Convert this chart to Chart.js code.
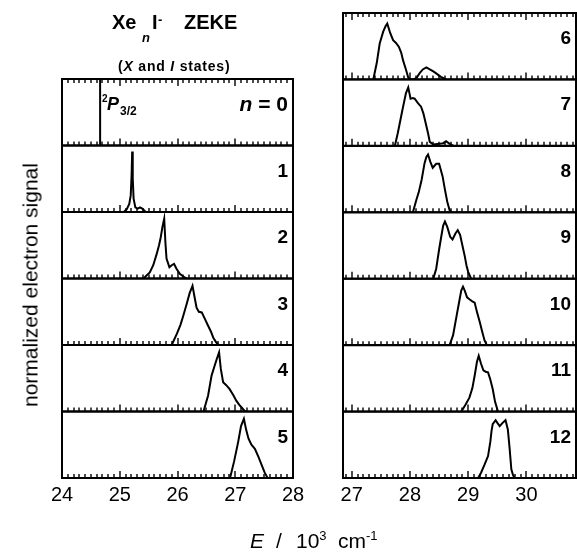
<!DOCTYPE html>
<html>
<head>
<meta charset="utf-8">
<script src="https://cdn.jsdelivr.net/npm/chart.js@4.4.1/dist/chart.umd.min.js"></script>
<style>
  html, body { margin: 0; padding: 0; background: #fff; }
  #wrap { position: relative; width: 577px; height: 552px; overflow: hidden; font-family: "Liberation Sans", Arial, sans-serif; color: #000; }
  #wrap canvas { position: absolute; left: 0; top: 0; }
  .txt { position: absolute; white-space: nowrap; line-height: 1; }
  .b { font-weight: bold; }
  .i { font-style: italic; }
</style>
</head>
<body>
<div id="wrap">
  <canvas id="leftChart" width="577" height="552"></canvas>
  <canvas id="rightChart" width="577" height="552"></canvas>

  <!-- titel -->
  <div class="txt b" style="left:112px;top:12px;font-size:20px;">Xe</div>
  <div class="txt b i" style="left:142px;top:31px;font-size:13px;">n</div>
  <div class="txt b" style="left:152px;top:12px;font-size:20px;">I</div>
  <div class="txt b" style="left:158px;top:13px;font-size:13px;">-</div>
  <div class="txt b" style="left:184px;top:12px;font-size:20px;">ZEKE</div>
  <div class="txt b" style="left:118px;top:59px;font-size:14px;letter-spacing:0.8px;">(<span class="i">X</span> and <span class="i">I</span> states)</div>

  <!-- achsentitel -->
  <div class="txt" style="left:30px;top:285px;font-size:21px;transform:translate(-50%,-50%) rotate(-90deg);">normalized electron signal</div>
  <div class="txt i" style="left:250px;top:530px;font-size:21px;">E</div>
  <div class="txt" style="left:276px;top:530px;font-size:21px;">/</div>
  <div class="txt" style="left:296px;top:530px;font-size:21px;">10<span style="font-size:13px;position:relative;top:-8px;">3</span></div>
  <div class="txt" style="left:338px;top:530px;font-size:21px;">cm<span style="font-size:13px;position:relative;top:-8px;">-1</span></div>
</div>

<script>
// x-Achsen
const leftTicks = [24, 25, 26, 27, 28];
const rightTicks = [27, 28, 29, 30];
const leftLabels = ['n = 0', '1', '2', '3', '4', '5'];
const rightLabels = ['6', '7', '8', '9', '10', '11', '12'];

// Spektren (E in 10^3 cm-1, Signal normiert)
const n0E = [24.66, 24.66];
const n0S = [0, 1];
const n1E = [25.07, 25.12, 25.165, 25.19, 25.205, 25.215, 25.225, 25.24, 25.27, 25.31, 25.35, 25.39, 25.45];
const n1S = [0, 0.04, 0.12, 0.25, 0.55, 0.91, 0.5, 0.2, 0.07, 0.05, 0.07, 0.05, 0];
const n2E = [25.41, 25.52, 25.58, 25.64, 25.68, 25.71, 25.74, 25.77, 25.79, 25.81, 25.86, 25.90, 25.94, 25.98, 26.04, 26.10, 26.16];
const n2S = [0, 0.09, 0.2, 0.37, 0.5, 0.62, 0.78, 0.9, 0.55, 0.3, 0.17, 0.2, 0.22, 0.15, 0.07, 0.03, 0];
const n3E = [25.90, 25.99, 26.05, 26.10, 26.16, 26.21, 26.26, 26.30, 26.33, 26.37, 26.42, 26.47, 26.53, 26.58, 26.62, 26.67, 26.71];
const n3S = [0, 0.17, 0.3, 0.44, 0.62, 0.78, 0.89, 0.7, 0.56, 0.5, 0.49, 0.4, 0.29, 0.2, 0.11, 0.04, 0];
const n4E = [26.45, 26.53, 26.59, 26.64, 26.68, 26.72, 26.75, 26.79, 26.84, 26.90, 26.97, 27.02, 27.07, 27.11, 27.17];
const n4S = [0, 0.24, 0.54, 0.68, 0.79, 0.89, 0.64, 0.44, 0.4, 0.34, 0.24, 0.16, 0.1, 0.06, 0];
const n5E = [26.91, 26.98, 27.05, 27.10, 27.15, 27.19, 27.23, 27.28, 27.34, 27.40, 27.46, 27.51, 27.56];
const n5S = [0, 0.25, 0.54, 0.78, 0.89, 0.72, 0.59, 0.5, 0.44, 0.32, 0.19, 0.08, 0];
const n6E = [27.37, 27.43, 27.48, 27.54, 27.58, 27.61, 27.66, 27.71, 27.76, 27.81, 27.85, 27.88, 27.93, 27.97, 28.0, 28.05, 28.11, 28.17, 28.22, 28.28, 28.34, 28.40, 28.45, 28.53, 28.62];
const n6S = [0, 0.25, 0.54, 0.72, 0.8, 0.84, 0.7, 0.59, 0.55, 0.49, 0.4, 0.29, 0.15, 0.03, 0, 0, 0.02, 0.1, 0.15, 0.18, 0.15, 0.12, 0.09, 0.04, 0];
const n7E = [27.74, 27.79, 27.87, 27.93, 27.97, 28.01, 28.05, 28.08, 28.14, 28.19, 28.23, 28.27, 28.31, 28.34, 28.40, 28.50, 28.57, 28.62, 28.68, 28.75];
const n7S = [0, 0.19, 0.54, 0.79, 0.88, 0.71, 0.72, 0.71, 0.64, 0.59, 0.49, 0.34, 0.19, 0.06, 0.02, 0.03, 0.04, 0.07, 0.03, 0];
const n8E = [28.05, 28.11, 28.15, 28.20, 28.25, 28.28, 28.31, 28.35, 28.39, 28.45, 28.50, 28.56, 28.60, 28.64, 28.68, 28.72];
const n8S = [0, 0.19, 0.3, 0.49, 0.74, 0.83, 0.87, 0.76, 0.67, 0.73, 0.73, 0.54, 0.34, 0.16, 0.03, 0];
const n9E = [28.40, 28.45, 28.50, 28.54, 28.57, 28.60, 28.64, 28.69, 28.73, 28.78, 28.82, 28.86, 28.90, 28.94, 28.97, 29.00, 29.05];
const n9S = [0, 0.15, 0.44, 0.65, 0.8, 0.86, 0.78, 0.63, 0.59, 0.68, 0.73, 0.66, 0.5, 0.34, 0.2, 0.1, 0];
const n10E = [28.68, 28.74, 28.80, 28.85, 28.88, 28.91, 28.94, 28.98, 29.02, 29.07, 29.11, 29.15, 29.20, 29.24, 29.28, 29.32];
const n10S = [0, 0.15, 0.44, 0.68, 0.82, 0.88, 0.82, 0.72, 0.69, 0.66, 0.64, 0.5, 0.34, 0.2, 0.07, 0];
const n11E = [28.88, 28.95, 29.02, 29.07, 29.11, 29.15, 29.18, 29.22, 29.26, 29.30, 29.34, 29.38, 29.42, 29.46, 29.51];
const n11S = [0, 0.1, 0.21, 0.35, 0.54, 0.75, 0.84, 0.72, 0.62, 0.6, 0.59, 0.48, 0.34, 0.15, 0];
const n12E = [29.17, 29.22, 29.28, 29.34, 29.38, 29.40, 29.42, 29.47, 29.50, 29.54, 29.59, 29.64, 29.68, 29.71, 29.74, 29.77, 29.80];
const n12S = [0, 0.08, 0.2, 0.33, 0.55, 0.71, 0.81, 0.87, 0.83, 0.78, 0.83, 0.87, 0.73, 0.45, 0.13, 0.04, 0];

const FONT = '"Liberation Sans", Arial, sans-serif';

// Rahmen, Ticks nach innen und Beschriftung je Panel
const panelFrame = {
    id: 'panelFrame',
    afterDatasetsDraw(chart, args, opts) {
        const ctx = chart.ctx;
        const area = chart.chartArea;
        const xs = chart.scales.x;
        const ys = Object.values(chart.scales).filter(s => s.axis === 'y');
        const topMost = Math.min(...ys.map(s => s.top));
        ctx.save();
        ctx.strokeStyle = '#000';
        ctx.fillStyle = '#000';
        ys.forEach(s => {
            const idx = Number(s.id.slice(1));
            ctx.lineWidth = 2;
            ctx.strokeRect(area.left, s.top, area.right - area.left, s.bottom - s.top);

            ctx.lineWidth = 1.4;
            ctx.beginPath();
            const first = Math.ceil(xs.min * 10 - 1e-6);
            const last = Math.floor(xs.max * 10 + 1e-6);
            for (let k = first; k <= last; k++) {
                const px = Math.round(xs.getPixelForValue(k / 10));
                const len = k % 10 === 0 ? 7 : 4;
                ctx.moveTo(px, s.bottom);
                ctx.lineTo(px, s.bottom - len);
                if (s.top === topMost) {
                    ctx.moveTo(px, s.top);
                    ctx.lineTo(px, s.top + len);
                }
            }
            ctx.stroke();

            const label = opts.labels[idx];
            const R = area.right - 5;
            const base = s.top + 31;
            ctx.textAlign = 'right';
            ctx.textBaseline = 'alphabetic';
            if (label.startsWith('n')) {
                const rest = label.slice(1);
                ctx.font = 'bold 21px ' + FONT;
                ctx.fillText(rest, R, base + 1);
                const w = ctx.measureText(rest).width;
                ctx.font = 'italic bold 21px ' + FONT;
                ctx.fillText('n', R - w, base + 1);
            } else {
                ctx.font = 'bold 19px ' + FONT;
                ctx.fillText(label, R, base);
            }
        });

        // 2P3/2 an der Linie
        if (opts.mark) {
            const s = chart.scales[opts.mark.axis];
            const lx = xs.getPixelForValue(opts.mark.x);
            const b = s.top + 31;
            ctx.textAlign = 'left';
            ctx.font = 'bold 10px ' + FONT;
            ctx.fillText('2', lx + 2, b - 8);
            ctx.font = 'italic bold 18px ' + FONT;
            ctx.fillText('P', lx + 7, b);
            ctx.font = 'bold 12px ' + FONT;
            ctx.fillText('3/2', lx + 20, b + 5);
        }
        ctx.restore();
    }
};

function buildColumn(canvasId, energies, signals, labels, xMin, xMax, xTicks, padding, mark) {
    const scales = {
        x: {
            type: 'linear',
            min: xMin,
            max: xMax,
            grid: { display: false, drawTicks: false },
            border: { display: false },
            ticks: { font: { size: 20, family: FONT }, color: '#000', padding: 5, maxRotation: 0 },
            afterBuildTicks: s => { s.ticks = xTicks.map(v => ({ value: v })); },
            afterFit: s => { s.height = 30; }
        }
    };
    labels.forEach((lab, i) => {
        scales['y' + i] = {
            type: 'linear',
            min: 0,
            max: 1,
            position: 'right',
            stack: 'panels',
            stackWeight: 1,
            grid: { display: false, drawTicks: false },
            border: { display: false },
            ticks: { display: false }
        };
    });
    const datasets = energies.map((e, i) => ({
        data: e.map((v, j) => ({ x: v, y: signals[i][j] })),
        yAxisID: 'y' + i,
        borderColor: '#000',
        borderWidth: 2,
        pointRadius: 0,
        tension: 0,
        fill: false
    }));
    return new Chart(document.getElementById(canvasId), {
        type: 'line',
        data: { datasets },
        options: {
            responsive: false,
            animation: false,
            devicePixelRatio: 1,
            layout: { padding },
            plugins: {
                legend: { display: false },
                tooltip: { enabled: false },
                panelFrame: { labels, mark }
            },
            scales
        },
        plugins: [panelFrame]
    });
}

buildColumn('leftChart',
    [n0E, n1E, n2E, n3E, n4E, n5E],
    [n0S, n1S, n2S, n3S, n4S, n5S],
    leftLabels, 24, 28, leftTicks,
    { left: 62, top: 79, right: 284, bottom: 44 },
    { axis: 'y0', x: n0E[0] });

buildColumn('rightChart',
    [n6E, n7E, n8E, n9E, n10E, n11E, n12E],
    [n6S, n7S, n8S, n9S, n10S, n11S, n12S],
    rightLabels, 26.85, 30.85, rightTicks,
    { left: 343, top: 13, right: 1, bottom: 44 },
    null);
</script>
</body>
</html>
